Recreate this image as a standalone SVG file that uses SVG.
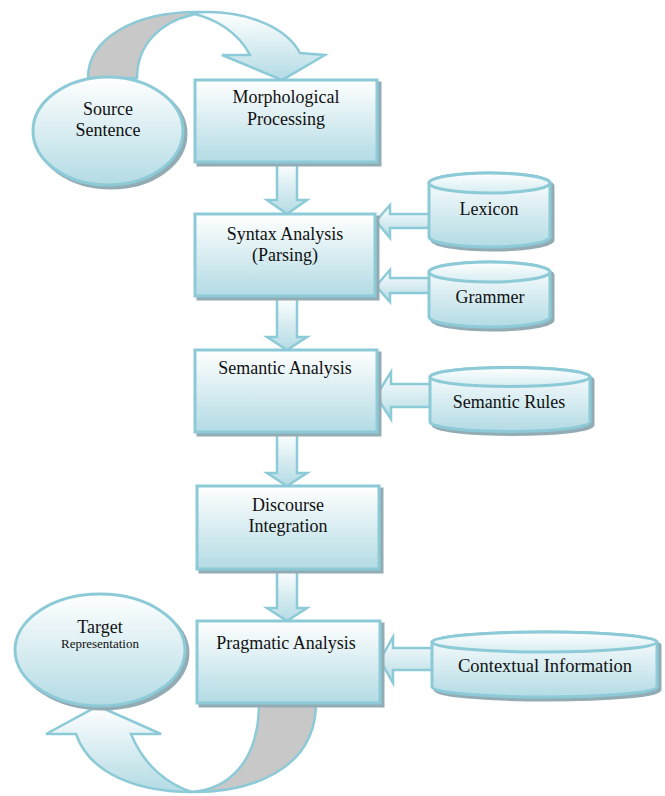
<svg xmlns="http://www.w3.org/2000/svg" width="665" height="796" viewBox="0 0 665 796">
<defs>
<linearGradient id="g" x1="0" y1="0" x2="0" y2="1">
<stop offset="0" stop-color="#ffffff"/>
<stop offset="1" stop-color="#b3dbe4"/>
</linearGradient>
<linearGradient id="gt" x1="0" y1="0" x2="0" y2="1">
<stop offset="0" stop-color="#ffffff"/>
<stop offset="1" stop-color="#d6edf2"/>
</linearGradient>
<filter id="sh" x="-10%" y="-10%" width="130%" height="130%">
<feOffset in="SourceAlpha" dx="3" dy="3" result="o"/>
<feFlood flood-color="#93abb3"/>
<feComposite in2="o" operator="in" result="s"/>
<feMerge><feMergeNode in="s"/><feMergeNode in="SourceGraphic"/></feMerge>
</filter>
<style>
.n{fill:url(#g);stroke:#8ccad7;stroke-width:3;filter:url(#sh)}
.a{fill:url(#g);stroke:#8ccad7;stroke-width:2.5;stroke-linejoin:miter}
.gr{fill:#c8c8c8;stroke:#8ccad7;stroke-width:2.5}
.top{fill:url(#gt);stroke:#8ccad7;stroke-width:3}
.t{font-family:'Liberation Serif','Times New Roman',serif;font-size:18px;fill:#111;text-anchor:middle}
</style>
</defs>
<g id="connectors">
<g id="curve-top">
<path class="gr" d="M88,78 C88,38 135,12 197,12 L192,15 C160,22 137,45 137,78 Z"/>
<path class="a" d="M190,13 C240,8 285,25 300,53 L325,55 L282,80 L222,55 L250,55 C238,32 215,18 190,13 Z"/>
</g>
<polygon class="a" points="277,162 297,162 297,200 307,200 287,214 267,200 277,200"/>
<polygon class="a" points="277,296 297,296 297,337 307,337 287,350 267,337 277,337"/>
<polygon class="a" points="277,432 297,432 297,473 307,473 287,486 267,473 277,473"/>
<polygon class="a" points="277,569 297,569 297,608 307,608 287,621 267,608 277,608"/>
<polygon class="a" points="432,214 390,214 390,205 376,221 390,238 390,228 432,228"/>
<polygon class="a" points="432,278 390,278 390,270 376,286 390,302 390,293 432,293"/>
<polygon class="a" points="433,384 391,384 391,372 376,396 391,419 391,407 433,407"/>
<polygon class="a" points="435,648 393,648 393,637 380,660 393,683 393,670 435,670"/>
<g id="curve-bottom">
<path class="gr" d="M259,703 C259,760 230,790 190,792 C250,793 316,770 316,703 Z"/>
<path class="a" d="M192,792 C140,792 90,775 76,734 L46,734 L98,706 L161,734 L131,734 C145,768 170,785 192,792 Z"/>
</g>
</g>
<g id="source">
<ellipse class="n" cx="108" cy="131" rx="75" ry="54"/>
<text class="t" x="108" y="115">Source</text>
<text class="t" x="108" y="136">Sentence</text>
</g>
<g id="morph">
<rect class="n" x="195" y="80" width="182" height="82"/>
<text class="t" x="286" y="103">Morphological</text>
<text class="t" x="286" y="125">Processing</text>
</g>
<g id="syntax">
<rect class="n" x="195" y="214" width="180" height="82"/>
<text class="t" x="285" y="240">Syntax Analysis</text>
<text class="t" x="285" y="261">(Parsing)</text>
</g>
<g id="semantic">
<rect class="n" x="195" y="350" width="182" height="82"/>
<text class="t" x="285" y="374">Semantic Analysis</text>
</g>
<g id="discourse">
<rect class="n" x="197" y="486" width="182" height="83"/>
<text class="t" x="288" y="511">Discourse</text>
<text class="t" x="288" y="532">Integration</text>
</g>
<g id="pragmatic">
<rect class="n" x="197" y="621" width="183" height="82"/>
<text class="t" x="286" y="649">Pragmatic Analysis</text>
</g>
<g id="target">
<ellipse class="n" cx="100" cy="650" rx="85" ry="56"/>
<text class="t" x="100" y="633">Target</text>
<text class="t" x="100" y="648" style="font-size:13px">Representation</text>
</g>
<g id="lexicon">
<path class="n" d="M429,183 A60.5,10 0 0 1 550,183 L550,237 A60.5,10 0 0 1 429,237 Z"/>
<ellipse class="top" cx="489.5" cy="183" rx="60.5" ry="10"/>
<text class="t" x="489" y="215">Lexicon</text>
</g>
<g id="grammer">
<path class="n" d="M429,272 A60.5,10 0 0 1 550,272 L550,317 A60.5,10 0 0 1 429,317 Z"/>
<ellipse class="top" cx="489.5" cy="272" rx="60.5" ry="10"/>
<text class="t" x="490" y="303">Grammer</text>
</g>
<g id="rules">
<path class="n" d="M430,377 A80,9.5 0 0 1 590,377 L590,422 A80,9.5 0 0 1 430,422 Z"/>
<ellipse class="top" cx="510" cy="377" rx="80" ry="9.5"/>
<text class="t" x="509" y="408">Semantic Rules</text>
</g>
<g id="context">
<path class="n" d="M432,642 A112.5,10 0 0 1 657,642 L657,687 A112.5,10 0 0 1 432,687 Z"/>
<ellipse class="top" cx="544.5" cy="642" rx="112.5" ry="10"/>
<text class="t" x="545" y="672" style="font-size:18.5px">Contextual Information</text>
</g>
</svg>
